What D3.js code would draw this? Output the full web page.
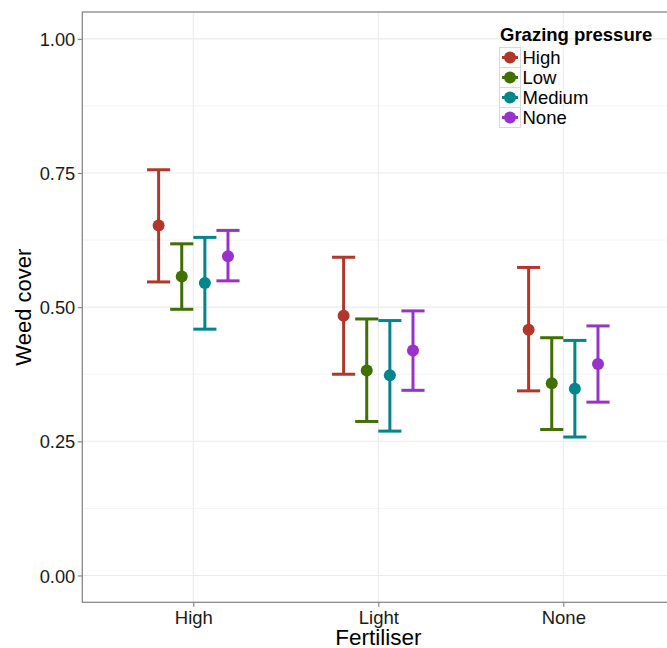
<!DOCTYPE html>
<html>
<head>
<meta charset="utf-8">
<script src="https://cdn.jsdelivr.net/npm/d3@7"></script>
<style>
  html, body { margin: 0; padding: 0; background: #fff; }
  svg { display: block; font-family: "Liberation Sans", Arial, Helvetica, sans-serif; }
</style>
</head>
<body>
<svg id="chart" width="667" height="648"></svg>
<script>
// Fertiliser treatments along the x axis, grazing levels dodged within each
const fertiliser = ["High", "Light", "None"];
const grazing = ["High", "Low", "Medium", "None"];
const grazingColours = ["#B3362A", "#3F7000", "#00868B", "#9932CC"];

// Mean weed cover, rows = fertiliser, columns = grazing pressure
const meanCover = [
  [0.652, 0.557, 0.545, 0.595],
  [0.484, 0.382, 0.373, 0.419],
  [0.458, 0.358, 0.348, 0.394]
];
const upperCover = [
  [0.756, 0.618, 0.630, 0.643],
  [0.593, 0.478, 0.475, 0.493],
  [0.574, 0.443, 0.438, 0.465]
];
const lowerCover = [
  [0.547, 0.496, 0.459, 0.549],
  [0.375, 0.287, 0.269, 0.345],
  [0.344, 0.272, 0.258, 0.323]
];
const yTicks = [0, 0.25, 0.5, 0.75, 1.0];
const yMinor = [0.125, 0.375, 0.625, 0.875];

const svg = d3.select("#chart");
const panel = { left: 82.3, right: 674.3, top: 12, bottom: 602.3 };

const x = d3.scalePoint().domain(fertiliser)
  .range([panel.left, panel.right]).padding(0.6);
const step = x.step();
const dodge = d3.scaleBand().domain(grazing)
  .range([-0.25 * step, 0.25 * step]);
const y = d3.scaleLinear().domain([-0.05, 1.05]).range([panel.bottom, panel.top]);
const colour = d3.scaleOrdinal().domain(grazing).range(grazingColours);

const records = [];
fertiliser.forEach((f, i) => grazing.forEach((g, j) => {
  records.push({ f, g, mean: meanCover[i][j], hi: upperCover[i][j], lo: lowerCover[i][j] });
}));

// panel background + grid
svg.append("rect")
  .attr("x", panel.left).attr("y", panel.top)
  .attr("width", panel.right - panel.left).attr("height", panel.bottom - panel.top)
  .attr("fill", "#fff");

const grid = svg.append("g");
grid.selectAll("line.minor").data(yMinor).join("line")
  .attr("x1", panel.left).attr("x2", panel.right)
  .attr("y1", d => y(d)).attr("y2", d => y(d))
  .attr("stroke", "#f4f4f4").attr("stroke-width", 1);
grid.selectAll("line.ymaj").data(yTicks).join("line")
  .attr("x1", panel.left).attr("x2", panel.right)
  .attr("y1", d => y(d)).attr("y2", d => y(d))
  .attr("stroke", "#ebebeb").attr("stroke-width", 1.1);
grid.selectAll("line.xmaj").data(fertiliser).join("line")
  .attr("x1", d => x(d)).attr("x2", d => x(d))
  .attr("y1", panel.top).attr("y2", panel.bottom)
  .attr("stroke", "#ebebeb").attr("stroke-width", 1.1);

// error bars and means
const capW = dodge.bandwidth();
const cx = d => x(d.f) + dodge(d.g) + capW / 2;
const marks = svg.append("g");
records.forEach(d => {
  const c = colour(d.g);
  const g = marks.append("g").attr("stroke", c).attr("stroke-width", 3).attr("fill", "none");
  g.append("line").attr("x1", cx(d)).attr("x2", cx(d)).attr("y1", y(d.hi)).attr("y2", y(d.lo));
  g.append("line").attr("x1", cx(d) - capW / 2).attr("x2", cx(d) + capW / 2).attr("y1", y(d.hi)).attr("y2", y(d.hi));
  g.append("line").attr("x1", cx(d) - capW / 2).attr("x2", cx(d) + capW / 2).attr("y1", y(d.lo)).attr("y2", y(d.lo));
  marks.append("circle").attr("cx", cx(d)).attr("cy", y(d.mean)).attr("r", 6).attr("fill", c);
});

// panel border
svg.append("rect")
  .attr("x", panel.left).attr("y", panel.top)
  .attr("width", panel.right - panel.left).attr("height", panel.bottom - panel.top)
  .attr("fill", "none").attr("stroke", "#7f7f7f").attr("stroke-width", 1.2);

// axes
const yAxis = svg.append("g").attr("transform", `translate(${panel.left},0)`)
  .call(d3.axisLeft(y).tickValues(yTicks).tickFormat(d3.format(".2f")).tickSize(4.5).tickPadding(2.5));
const xAxis = svg.append("g").attr("transform", `translate(0,${panel.bottom})`)
  .call(d3.axisBottom(x).tickSize(4.5).tickPadding(3));
[yAxis, xAxis].forEach(a => {
  a.select(".domain").remove();
  a.selectAll(".tick line").attr("stroke", "#7f7f7f").attr("stroke-width", 1.1);
  a.selectAll(".tick text").attr("fill", "#1a1a1a");
});
yAxis.selectAll(".tick text").attr("font-size", 18.3).attr("dy", "0.36em");
xAxis.selectAll(".tick text").attr("font-size", 18.5).attr("dy", "0.76em");

// axis titles
svg.append("text").attr("x", (panel.left + panel.right) / 2).attr("y", 644.5)
  .attr("text-anchor", "middle").attr("font-size", 22.5).attr("fill", "#000").text("Fertiliser");
svg.append("text").attr("transform", `translate(31,${(panel.top + panel.bottom) / 2}) rotate(-90)`)
  .attr("text-anchor", "middle").attr("font-size", 22).attr("fill", "#000").text("Weed cover");

// legend
const legend = svg.append("g").attr("transform", "translate(499,0)");
legend.append("text").attr("x", 1).attr("y", 41).attr("font-size", 18.5)
  .attr("font-weight", "bold").attr("fill", "#000").text("Grazing pressure");
grazing.forEach((g, i) => {
  const top = 47 + i * 20;
  const item = legend.append("g").attr("transform", `translate(0,${top})`);
  item.append("rect").attr("x", 0.5).attr("y", 0.5).attr("width", 21).attr("height", 20)
    .attr("fill", "#fff").attr("stroke", "#d9d9d9").attr("stroke-width", 1);
  item.append("line").attr("x1", 3).attr("x2", 19).attr("y1", 10.5).attr("y2", 10.5)
    .attr("stroke", colour(g)).attr("stroke-width", 3);
  item.append("circle").attr("cx", 11).attr("cy", 10.5).attr("r", 6).attr("fill", colour(g));
  item.append("text").attr("x", 23.5).attr("y", 10.5).attr("dy", "0.36em")
    .attr("font-size", 18.5).attr("fill", "#000").text(g);
});
</script>
</body>
</html>
